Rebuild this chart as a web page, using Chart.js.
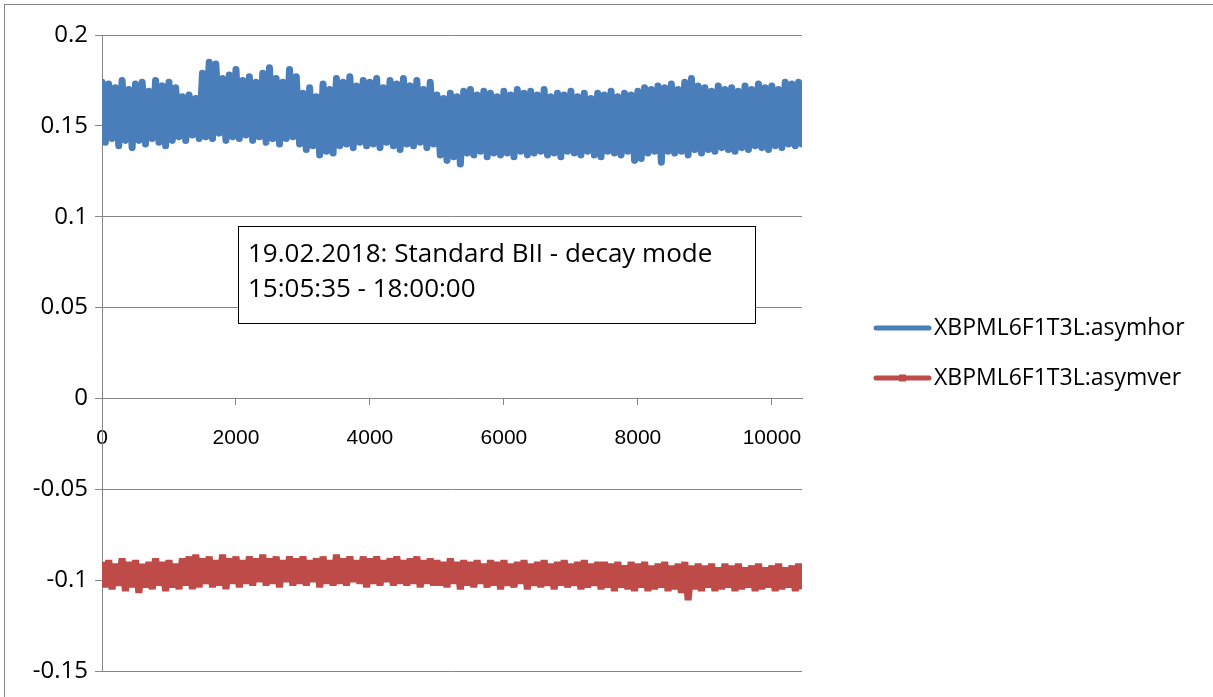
<!DOCTYPE html>
<html>
<head>
<meta charset="utf-8">
<script src="https://cdn.jsdelivr.net/npm/chart.js@4/dist/chart.umd.min.js"></script>
<style>
  html, body { margin: 0; padding: 0; background: #fff; }
  canvas { display: block; }
</style>
</head>
<body>
<canvas id="asymChart" width="1213" height="697"></canvas>
<script>
// sample number step between plotted readings
var sampleStep = 50;

var seriesNames = ['XBPML6F1T3L:asymhor', 'XBPML6F1T3L:asymver'];
var noteLines = ['19.02.2018: Standard BII - decay mode', '15:05:35 - 18:00:00'];
var xTicks = [0, 2000, 4000, 6000, 8000, 10000];
var yTicks = [0.2, 0.15, 0.1, 0.05, 0, -0.05, -0.1, -0.15];

var asymhor = [
    0.174, 0.141, 0.173, 0.143, 0.171, 0.139, 0.175, 0.142, 0.170, 0.138,
    0.173, 0.142, 0.174, 0.140, 0.169, 0.143, 0.175, 0.141, 0.172, 0.139,
    0.174, 0.142, 0.171, 0.144, 0.166, 0.142, 0.167, 0.145, 0.165, 0.143,
    0.179, 0.144, 0.185, 0.143, 0.184, 0.146, 0.176, 0.142, 0.178, 0.144,
    0.181, 0.143, 0.175, 0.145, 0.177, 0.142, 0.174, 0.144, 0.179, 0.141,
    0.182, 0.143, 0.176, 0.140, 0.174, 0.143, 0.181, 0.144, 0.177, 0.140,
    0.168, 0.137, 0.171, 0.139, 0.166, 0.134, 0.173, 0.136, 0.170, 0.135,
    0.176, 0.139, 0.174, 0.140, 0.177, 0.138, 0.172, 0.141, 0.175, 0.139,
    0.174, 0.140, 0.176, 0.138, 0.171, 0.141, 0.175, 0.139, 0.173, 0.137,
    0.176, 0.140, 0.172, 0.139, 0.175, 0.141, 0.170, 0.138, 0.174, 0.140,
    0.167, 0.134, 0.165, 0.131, 0.168, 0.133, 0.166, 0.129, 0.169, 0.135,
    0.170, 0.134, 0.167, 0.136, 0.169, 0.133, 0.168, 0.135, 0.166, 0.134,
    0.169, 0.135, 0.167, 0.133, 0.170, 0.136, 0.168, 0.134, 0.169, 0.135,
    0.167, 0.136, 0.170, 0.134, 0.166, 0.135, 0.168, 0.133, 0.167, 0.136,
    0.169, 0.135, 0.166, 0.134, 0.168, 0.136, 0.165, 0.134, 0.168, 0.133,
    0.167, 0.136, 0.169, 0.135, 0.166, 0.134, 0.168, 0.136, 0.167, 0.131,
    0.169, 0.132, 0.171, 0.135, 0.170, 0.136, 0.172, 0.130, 0.171, 0.136,
    0.173, 0.135, 0.170, 0.136, 0.174, 0.134, 0.176, 0.137, 0.172, 0.135,
    0.171, 0.137, 0.169, 0.136, 0.172, 0.138, 0.170, 0.137, 0.171, 0.136,
    0.169, 0.138, 0.172, 0.137, 0.170, 0.139, 0.173, 0.138, 0.171, 0.137,
    0.172, 0.139, 0.170, 0.138, 0.174, 0.140, 0.173, 0.139, 0.174, 0.140
];

var asymver = [
    -0.090, -0.104, -0.089, -0.105, -0.091, -0.103, -0.088, -0.106, -0.090, -0.104,
    -0.089, -0.107, -0.091, -0.104, -0.090, -0.105, -0.088, -0.103, -0.090, -0.106,
    -0.089, -0.104, -0.091, -0.105, -0.088, -0.103, -0.087, -0.105, -0.086, -0.104,
    -0.088, -0.102, -0.087, -0.104, -0.089, -0.103, -0.086, -0.105, -0.088, -0.102,
    -0.087, -0.104, -0.089, -0.102, -0.087, -0.103, -0.088, -0.101, -0.086, -0.103,
    -0.088, -0.102, -0.087, -0.104, -0.089, -0.101, -0.087, -0.103, -0.088, -0.102,
    -0.087, -0.103, -0.089, -0.101, -0.088, -0.104, -0.087, -0.102, -0.089, -0.103,
    -0.086, -0.102, -0.088, -0.103, -0.087, -0.101, -0.089, -0.102, -0.087, -0.104,
    -0.088, -0.102, -0.087, -0.103, -0.089, -0.101, -0.088, -0.103, -0.087, -0.102,
    -0.089, -0.103, -0.088, -0.102, -0.087, -0.104, -0.089, -0.102, -0.088, -0.103,
    -0.089, -0.103, -0.090, -0.104, -0.088, -0.102, -0.090, -0.105, -0.089, -0.103,
    -0.090, -0.104, -0.089, -0.102, -0.091, -0.104, -0.089, -0.103, -0.090, -0.105,
    -0.089, -0.103, -0.091, -0.104, -0.090, -0.102, -0.089, -0.105, -0.091, -0.103,
    -0.090, -0.104, -0.089, -0.103, -0.091, -0.105, -0.090, -0.103, -0.089, -0.104,
    -0.091, -0.103, -0.090, -0.105, -0.089, -0.104, -0.091, -0.103, -0.090, -0.105,
    -0.090, -0.104, -0.091, -0.106, -0.090, -0.104, -0.092, -0.105, -0.090, -0.106,
    -0.091, -0.104, -0.090, -0.106, -0.092, -0.105, -0.091, -0.104, -0.090, -0.106,
    -0.092, -0.105, -0.091, -0.107, -0.090, -0.111, -0.092, -0.105, -0.091, -0.106,
    -0.092, -0.104, -0.091, -0.106, -0.093, -0.105, -0.091, -0.104, -0.092, -0.106,
    -0.091, -0.105, -0.093, -0.104, -0.092, -0.106, -0.091, -0.105, -0.093, -0.104,
    -0.092, -0.106, -0.091, -0.105, -0.093, -0.104, -0.092, -0.106, -0.091, -0.105
];

var seriesColors = ['#4a7ebb', '#be4b48'];
var gridColor = '#868686';

function toPoints(values) {
    return values.map(function (v, i) {
        return { x: i * sampleStep, y: v };
    });
}

var framePlugin = {
    id: 'frame',
    beforeDraw: function (chart) {
        var ctx = chart.ctx;
        ctx.save();
        ctx.fillStyle = '#fff';
        ctx.fillRect(0, 0, chart.width, chart.height);
        ctx.strokeStyle = gridColor;
        ctx.lineWidth = 1;
        ctx.strokeRect(4.5, 4.5, chart.width + 20, chart.height + 20);
        ctx.restore();
    }
};

var notePlugin = {
    id: 'noteBox',
    afterDraw: function (chart) {
        var ctx = chart.ctx;
        ctx.save();
        ctx.fillStyle = '#fff';
        ctx.fillRect(238, 226, 517, 97);
        ctx.strokeStyle = '#000';
        ctx.lineWidth = 1;
        ctx.strokeRect(238.5, 226.5, 517, 97);
        ctx.fillStyle = '#000';
        ctx.font = '26px "Open Sans"';
        ctx.textBaseline = 'middle';
        ctx.fillText(noteLines[0], 248, 255);
        ctx.fillText(noteLines[1], 248, 290);

        // legend on the right
        var rows = [328, 378];
        ctx.font = '23px "Open Sans"';
        rows.forEach(function (y, i) {
            ctx.strokeStyle = seriesColors[i];
            ctx.lineWidth = 5;
            ctx.lineCap = 'round';
            ctx.beginPath();
            ctx.moveTo(876, y);
            ctx.lineTo(929, y);
            ctx.stroke();
            if (i === 1) {
                ctx.fillStyle = seriesColors[i];
                ctx.fillRect(899, y - 3.5, 7, 7);
            }
            ctx.fillStyle = '#000';
            ctx.fillText(seriesNames[i], 934, y);
        });
        ctx.restore();
    }
};

document.addEventListener('DOMContentLoaded', function () {
    var canvas = document.getElementById('asymChart');

    new Chart(canvas, {
        type: 'line',
        data: {
            datasets: [{
                label: seriesNames[0],
                data: toPoints(asymhor),
                borderColor: seriesColors[0],
                borderWidth: 7,
                borderCapStyle: 'round',
                borderJoinStyle: 'round',
                pointRadius: 0,
                tension: 0
            }, {
                label: seriesNames[1],
                data: toPoints(asymver),
                borderColor: seriesColors[1],
                borderWidth: 7,
                borderCapStyle: 'butt',
                borderJoinStyle: 'bevel',
                pointRadius: 0,
                tension: 0
            }]
        },
        options: {
            responsive: false,
            animation: false,
            events: [],
            layout: { padding: { left: 0, top: 35, right: 411, bottom: 26 } },
            plugins: { legend: { display: false }, tooltip: { enabled: false } },
            scales: {
                x: {
                    type: 'linear',
                    position: { y: 0 },
                    min: 0,
                    max: 10450,
                    afterFit: function (scale) { scale.height = 0; },
                    afterBuildTicks: function (scale) {
                        scale.ticks = xTicks.map(function (v) { return { value: v }; });
                    },
                    ticks: {
                        color: '#000',
                        padding: 21,
                        maxRotation: 0,
                        autoSkip: false,
                        font: { family: '"Liberation Sans Narrow", "Liberation Sans"', size: 21 },
                        callback: function (v) { return String(v); }
                    },
                    grid: { drawOnChartArea: false, drawTicks: true, tickLength: 6, color: gridColor },
                    border: { display: true, color: gridColor }
                },
                y: {
                    min: -0.15,
                    max: 0.2,
                    afterFit: function (scale) { scale.width = 102; },
                    afterBuildTicks: function (scale) {
                        scale.ticks = yTicks.map(function (v) { return { value: v }; });
                    },
                    ticks: {
                        color: '#000',
                        padding: 7,
                        autoSkip: false,
                        font: { family: '"Open Sans"', size: 24 },
                        callback: function (v) { return String(Number(v.toFixed(2))); }
                    },
                    grid: { color: gridColor, tickLength: 7 },
                    border: { display: true, color: gridColor }
                }
            }
        },
        plugins: [framePlugin, notePlugin]
    });
});
</script>
</body>
</html>
